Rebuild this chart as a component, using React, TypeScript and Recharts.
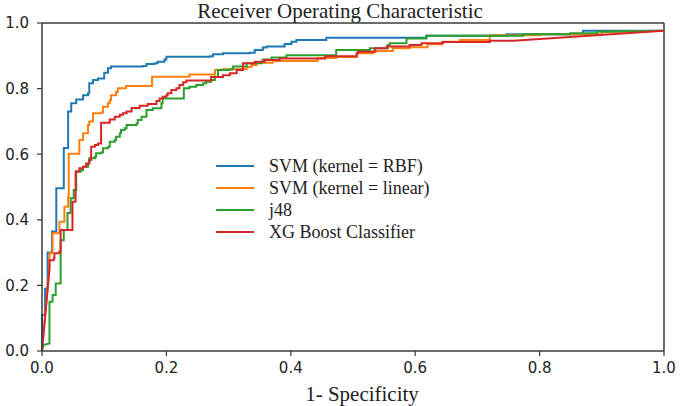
import { LineChart, Line, XAxis, YAxis, ReferenceLine } from 'recharts';

// ROC corner points as [fpr, tpr]
const svmRbf: [number, number][] = [
    [0, 0], [0, 0.11], [0.005, 0.11], [0.005, 0.19], [0.009, 0.19], [0.009, 0.3], [0.016, 0.3],
    [0.016, 0.364], [0.023, 0.364], [0.023, 0.496], [0.035, 0.496], [0.035, 0.619], [0.042, 0.619],
    [0.042, 0.73], [0.047, 0.73], [0.047, 0.755], [0.055, 0.755], [0.055, 0.767], [0.066, 0.767],
    [0.066, 0.78], [0.074, 0.78], [0.074, 0.786], [0.076, 0.786], [0.076, 0.816], [0.082, 0.816],
    [0.082, 0.826], [0.09, 0.826], [0.09, 0.831], [0.1, 0.831], [0.1, 0.848], [0.106, 0.848],
    [0.106, 0.862], [0.111, 0.862], [0.111, 0.867], [0.162, 0.867], [0.162, 0.869], [0.168, 0.869],
    [0.168, 0.875], [0.181, 0.875], [0.181, 0.877], [0.186, 0.877], [0.186, 0.882], [0.197, 0.882],
    [0.197, 0.889], [0.2, 0.889], [0.2, 0.897], [0.27, 0.897], [0.27, 0.899], [0.275, 0.899],
    [0.275, 0.905], [0.291, 0.905], [0.291, 0.908], [0.334, 0.908], [0.334, 0.909], [0.342, 0.909],
    [0.342, 0.918], [0.355, 0.918], [0.355, 0.925], [0.361, 0.925], [0.361, 0.928], [0.39, 0.928],
    [0.39, 0.936], [0.401, 0.936], [0.401, 0.943], [0.409, 0.943], [0.409, 0.948], [0.457, 0.948],
    [0.457, 0.955], [0.618, 0.955], [0.618, 0.961], [0.747, 0.961], [0.747, 0.966], [0.87, 0.966],
    [0.87, 0.976], [1, 0.976],
];

const svmLinear: [number, number][] = [
    [0, 0], [0.012, 0.252], [0.012, 0.298], [0.017, 0.298], [0.017, 0.359], [0.028, 0.359],
    [0.028, 0.394], [0.036, 0.394], [0.036, 0.44], [0.042, 0.44], [0.042, 0.47], [0.043, 0.47],
    [0.043, 0.601], [0.06, 0.601], [0.06, 0.643], [0.066, 0.643], [0.066, 0.664], [0.074, 0.664],
    [0.074, 0.689], [0.076, 0.689], [0.076, 0.7], [0.082, 0.7], [0.082, 0.725], [0.095, 0.725],
    [0.095, 0.727], [0.098, 0.727], [0.098, 0.745], [0.106, 0.745], [0.106, 0.755], [0.109, 0.755],
    [0.109, 0.765], [0.111, 0.765], [0.111, 0.78], [0.119, 0.78], [0.119, 0.79], [0.122, 0.79],
    [0.122, 0.801], [0.135, 0.801], [0.135, 0.808], [0.177, 0.808], [0.177, 0.836], [0.237, 0.836],
    [0.237, 0.843], [0.278, 0.843], [0.278, 0.857], [0.29, 0.857], [0.29, 0.859], [0.329, 0.859],
    [0.329, 0.866], [0.337, 0.866], [0.337, 0.872], [0.345, 0.872], [0.345, 0.879], [0.371, 0.879],
    [0.371, 0.884], [0.443, 0.884], [0.443, 0.893], [0.473, 0.893], [0.473, 0.896], [0.506, 0.896],
    [0.506, 0.908], [0.532, 0.908], [0.532, 0.912], [0.538, 0.912], [0.538, 0.915], [0.564, 0.915],
    [0.564, 0.923], [0.591, 0.923], [0.591, 0.926], [0.62, 0.926], [0.62, 0.935], [0.644, 0.935],
    [0.644, 0.943], [0.672, 0.943], [0.672, 0.948], [0.72, 0.948], [0.72, 0.963], [0.8, 0.963],
    [0.8, 0.966], [0.9, 0.966], [0.9, 0.972], [1, 0.976],
];

const j48: [number, number][] = [
    [0, 0], [0.002, 0.018], [0.012, 0.023], [0.012, 0.15], [0.017, 0.15], [0.017, 0.171],
    [0.022, 0.171], [0.022, 0.206], [0.03, 0.206], [0.03, 0.338], [0.035, 0.338], [0.035, 0.369],
    [0.041, 0.369], [0.041, 0.421], [0.046, 0.421], [0.046, 0.466], [0.051, 0.466], [0.051, 0.491],
    [0.055, 0.491], [0.055, 0.547], [0.063, 0.547], [0.063, 0.552], [0.066, 0.552], [0.066, 0.562],
    [0.074, 0.562], [0.074, 0.572], [0.076, 0.572], [0.076, 0.588], [0.085, 0.588], [0.085, 0.592],
    [0.087, 0.592], [0.087, 0.603], [0.095, 0.603], [0.095, 0.605], [0.098, 0.605], [0.098, 0.618],
    [0.106, 0.618], [0.106, 0.623], [0.109, 0.623], [0.109, 0.638], [0.117, 0.638], [0.117, 0.643],
    [0.119, 0.643], [0.119, 0.653], [0.125, 0.653], [0.125, 0.664], [0.127, 0.664], [0.127, 0.674],
    [0.133, 0.674], [0.133, 0.679], [0.136, 0.679], [0.136, 0.689], [0.152, 0.689], [0.152, 0.694],
    [0.154, 0.694], [0.154, 0.704], [0.16, 0.704], [0.16, 0.714], [0.168, 0.714], [0.168, 0.735],
    [0.178, 0.735], [0.178, 0.74], [0.192, 0.74], [0.192, 0.755], [0.194, 0.755], [0.194, 0.77],
    [0.228, 0.77], [0.228, 0.801], [0.237, 0.801], [0.237, 0.806], [0.248, 0.806], [0.248, 0.811],
    [0.259, 0.811], [0.259, 0.816], [0.264, 0.816], [0.264, 0.821], [0.272, 0.821], [0.272, 0.826],
    [0.278, 0.826], [0.278, 0.836], [0.283, 0.836], [0.283, 0.857], [0.302, 0.857], [0.302, 0.859],
    [0.307, 0.859], [0.307, 0.867], [0.329, 0.867], [0.329, 0.877], [0.353, 0.877], [0.353, 0.882],
    [0.355, 0.882], [0.355, 0.889], [0.369, 0.889], [0.369, 0.895], [0.393, 0.895], [0.393, 0.902],
    [0.473, 0.902], [0.473, 0.918], [0.527, 0.918], [0.527, 0.923], [0.556, 0.923], [0.556, 0.933],
    [0.559, 0.933], [0.559, 0.938], [0.586, 0.938], [0.586, 0.953], [0.618, 0.953], [0.618, 0.961],
    [0.774, 0.961], [0.774, 0.966], [0.849, 0.966], [0.849, 0.969], [0.892, 0.969], [0.892, 0.973],
    [1, 0.976],
];

const xgBoost: [number, number][] = [
    [0, 0], [0.012, 0.252], [0.012, 0.277], [0.019, 0.277], [0.019, 0.283], [0.02, 0.283],
    [0.02, 0.298], [0.028, 0.298], [0.028, 0.303], [0.03, 0.303], [0.03, 0.369], [0.049, 0.369],
    [0.049, 0.455], [0.054, 0.455], [0.054, 0.547], [0.06, 0.547], [0.06, 0.557], [0.066, 0.557],
    [0.066, 0.562], [0.071, 0.562], [0.071, 0.572], [0.076, 0.572], [0.076, 0.582], [0.079, 0.582],
    [0.079, 0.623], [0.085, 0.623], [0.085, 0.628], [0.09, 0.628], [0.09, 0.633], [0.095, 0.633],
    [0.095, 0.696], [0.109, 0.696], [0.109, 0.706], [0.117, 0.706], [0.117, 0.714], [0.125, 0.714],
    [0.125, 0.72], [0.13, 0.72], [0.13, 0.725], [0.136, 0.725], [0.136, 0.73], [0.144, 0.73],
    [0.144, 0.741], [0.157, 0.741], [0.157, 0.748], [0.17, 0.748], [0.17, 0.753], [0.184, 0.753],
    [0.184, 0.762], [0.189, 0.762], [0.189, 0.77], [0.194, 0.77], [0.194, 0.775], [0.2, 0.775],
    [0.2, 0.78], [0.202, 0.78], [0.202, 0.786], [0.208, 0.786], [0.208, 0.796], [0.216, 0.796],
    [0.216, 0.801], [0.221, 0.801], [0.221, 0.811], [0.227, 0.811], [0.227, 0.819], [0.232, 0.819],
    [0.232, 0.825], [0.272, 0.825], [0.272, 0.835], [0.291, 0.835], [0.291, 0.841], [0.302, 0.841],
    [0.302, 0.847], [0.313, 0.847], [0.313, 0.857], [0.323, 0.857], [0.323, 0.877], [0.342, 0.877],
    [0.342, 0.882], [0.358, 0.882], [0.358, 0.887], [0.382, 0.887], [0.382, 0.892], [0.455, 0.892],
    [0.455, 0.899], [0.506, 0.899], [0.506, 0.908], [0.508, 0.908], [0.508, 0.912], [0.535, 0.912],
    [0.535, 0.923], [0.554, 0.923], [0.554, 0.928], [0.591, 0.928], [0.591, 0.933], [0.61, 0.933],
    [0.61, 0.938], [0.644, 0.938], [0.644, 0.942], [0.72, 0.942], [0.72, 0.946], [0.758, 0.946],
    [1, 0.976],
];

const axisTicks = [0, 0.2, 0.4, 0.6, 0.8, 1.0];

const series = [
    { name: 'SVM (kernel = RBF)', color: '#1f77b4', points: svmRbf },
    { name: 'SVM (kernel = linear)', color: '#ff7f0e', points: svmLinear },
    { name: 'j48', color: '#2ca02c', points: j48 },
    { name: 'XG Boost Classifier', color: '#d62728', points: xgBoost },
];

const serif = '"Liberation Serif", "Times New Roman", serif';
const sans = '"DejaVu Sans", sans-serif';
const spine = '#3a3a3a';

function RocLegend() {
    return (
        <div style={{ position: 'absolute', left: 216, top: 155, fontFamily: serif, fontSize: 18, color: '#222' }}>
            {series.map(s => (
                <div key={s.name} style={{ display: 'flex', alignItems: 'center', height: 22, lineHeight: '22px' }}>
                    <span style={{ display: 'inline-block', width: 38, height: 2, background: s.color, marginRight: 15 }} />
                    <span style={{ whiteSpace: 'nowrap' }}>{s.name}</span>
                </div>
            ))}
        </div>
    );
}

export default function App() {
    return (
        <div style={{ position: 'absolute', left: 0, top: 0, width: 685, height: 406, background: '#fff', overflow: 'hidden' }}>
            <div style={{
                position: 'absolute', top: 0, left: 0, width: 680, textAlign: 'center',
                fontFamily: serif, fontSize: 21, lineHeight: '23px', color: '#222',
            }}>
                Receiver Operating Characteristic
            </div>
            <LineChart width={685} height={406} margin={{ top: 23, right: 21, bottom: 0, left: 0 }}>
                <XAxis
                    type="number"
                    dataKey="fpr"
                    domain={[0, 1]}
                    ticks={axisTicks}
                    tickFormatter={(v: number) => v.toFixed(1)}
                    height={55}
                    tickSize={5}
                    tickMargin={6}
                    axisLine={{ stroke: spine, strokeWidth: 1.5 }}
                    tickLine={{ stroke: spine, strokeWidth: 1.2 }}
                    tick={{ fill: '#222', fontSize: 15, fontFamily: sans }}
                    label={{ value: '1- Specificity', position: 'insideBottom', offset: 5, dx: 9, fill: '#222', fontSize: 21, fontFamily: serif }}
                />
                <YAxis
                    type="number"
                    domain={[0, 1]}
                    ticks={axisTicks}
                    tickFormatter={(v: number) => v.toFixed(1)}
                    width={42}
                    tickSize={5}
                    tickMargin={8}
                    axisLine={{ stroke: spine, strokeWidth: 1.5 }}
                    tickLine={{ stroke: spine, strokeWidth: 1.2 }}
                    tick={{ fill: '#222', fontSize: 15, fontFamily: sans }}
                />
                <ReferenceLine y={1} stroke={spine} strokeWidth={1.5} />
                <ReferenceLine x={1} stroke={spine} strokeWidth={1.5} />
                {series.map(s => (
                    <Line
                        key={s.name}
                        name={s.name}
                        data={s.points.map(([fpr, tpr]) => ({ fpr, tpr }))}
                        dataKey="tpr"
                        type="linear"
                        stroke={s.color}
                        strokeWidth={2}
                        dot={false}
                        activeDot={false}
                        isAnimationActive={false}
                    />
                ))}
            </LineChart>
            <RocLegend />
        </div>
    );
}
